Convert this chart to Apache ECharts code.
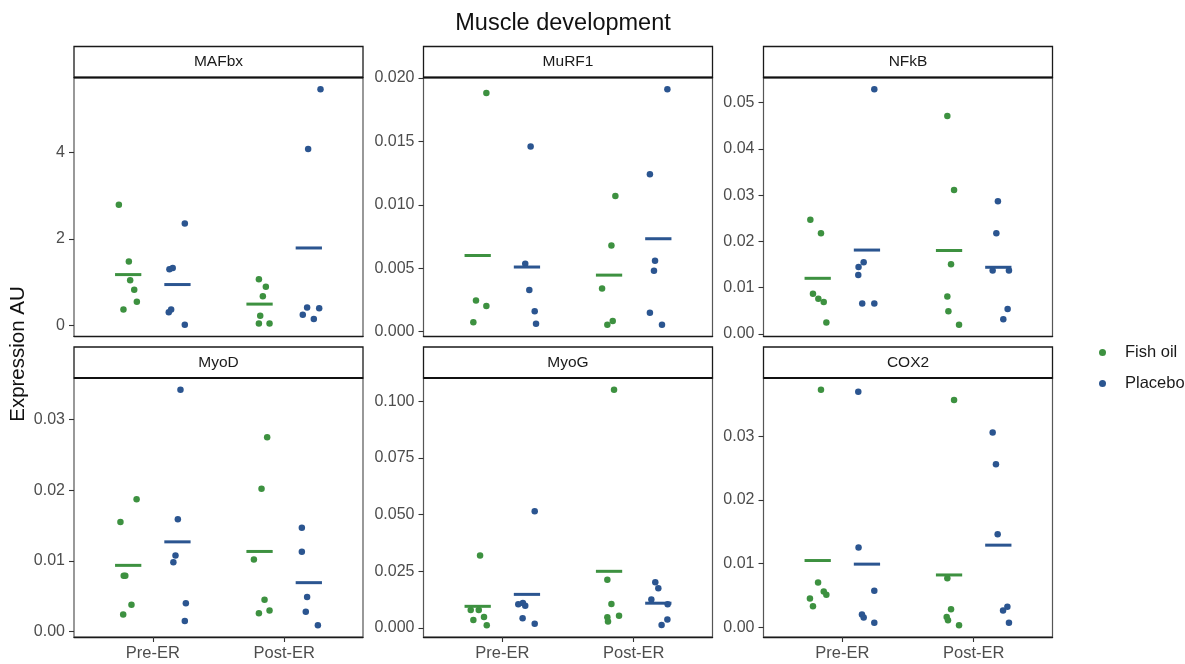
<!DOCTYPE html>
<html>
<head>
<meta charset="utf-8">
<title>Muscle development</title>
<script src="https://cdn.jsdelivr.net/npm/echarts@6/dist/echarts.min.js"></script>
<style>
  html, body { margin: 0; padding: 0; background: #fff; }
  #chart { width: 1185px; height: 664px; }
</style>
</head>
<body>
<div id="chart"></div>
<script>
// Time points on the x axis and the two treatment groups
const categories = ['Pre-ER', 'Post-ER'];
const groups = ['Fish oil', 'Placebo'];
const genes = ['MAFbx', 'MuRF1', 'NFkB', 'MyoD', 'MyoG', 'COX2'];

// Expression values per gene, in the order:
// [Fish oil Pre-ER, Placebo Pre-ER, Fish oil Post-ER, Placebo Post-ER]
const mafbxValues = [
  [2.79, 1.48, 1.05, 0.83, 0.55, 0.37],
  [2.36, 1.30, 1.33, 0.31, 0.37, 0.02],
  [1.07, 0.90, 0.68, 0.23, 0.05, 0.05],
  [5.46, 4.08, 0.42, 0.40, 0.25, 0.15]
];
const murf1Values = [
  [0.0188, 0.00245, 0.00203, 0.00074],
  [0.0146, 0.00535, 0.00329, 0.00161, 0.00063],
  [0.0107, 0.0068, 0.0034, 0.00055, 0.00084],
  [0.0191, 0.0124, 0.0056, 0.0048, 0.0015, 0.00055]
];
const nfkbValues = [
  [0.0247, 0.0218, 0.0087, 0.0076, 0.0069, 0.0025],
  [0.0529, 0.0155, 0.0145, 0.01275, 0.0066, 0.0066],
  [0.0471, 0.0311, 0.0151, 0.0081, 0.0049, 0.0020],
  [0.0287, 0.0218, 0.0137, 0.0137, 0.0054, 0.0032]
];
const myodValues = [
  [0.0187, 0.0155, 0.0079, 0.0079, 0.0038, 0.0024],
  [0.0342, 0.0159, 0.01075, 0.0098, 0.0040, 0.0015],
  [0.0275, 0.0202, 0.0102, 0.0045, 0.0026, 0.0030],
  [0.0147, 0.0113, 0.0049, 0.0028, 0.0009]
];
const myogValues = [
  [0.0319, 0.0079, 0.0079, 0.0048, 0.0035, 0.0012],
  [0.0514, 0.0110, 0.0104, 0.0098, 0.0043, 0.0019],
  [0.105, 0.0213, 0.0106, 0.0054, 0.0047, 0.0028],
  [0.0201, 0.0175, 0.0125, 0.0104, 0.0037, 0.0013]
];
const cox2Values = [
  [0.0373, 0.0070, 0.0056, 0.0051, 0.0045, 0.0033],
  [0.0370, 0.0125, 0.0057, 0.0020, 0.0015, 0.0007],
  [0.0357, 0.0077, 0.0028, 0.0016, 0.0011, 0.0003],
  [0.0306, 0.0256, 0.0146, 0.0032, 0.0026, 0.0007]
];

// Horizontal jitter of each point (x-axis units), same layout as the values
const mafbxJitter = [
  [-0.071, 0.005, 0.015, 0.046, 0.066, -0.036],
  [0.056, -0.061, -0.036, -0.066, -0.048, 0.056],
  [-0.005, 0.048, 0.025, 0.005, -0.005, 0.076],
  [0.089, -0.005, -0.013, 0.079, -0.046, 0.038]
];
const murf1Jitter = [
  [0.066, -0.013, 0.066, -0.033],
  [0.028, -0.013, 0.018, 0.059, 0.069],
  [0.048, 0.018, -0.053, -0.013, 0.028],
  [0.069, -0.064, -0.025, -0.033, -0.064, 0.028]
];
const nfkbJitter = [
  [-0.056, 0.025, -0.036, 0.005, 0.046, 0.066],
  [0.056, -0.025, -0.064, -0.066, -0.036, 0.056],
  [-0.013, 0.038, 0.015, -0.013, -0.005, 0.076],
  [-0.003, -0.015, -0.043, 0.081, 0.071, 0.038]
];
const myodJitter = [
  [0.064, -0.059, -0.034, -0.022, 0.025, -0.038],
  [0.023, 0.003, -0.015, -0.031, 0.064, 0.056],
  [0.058, 0.015, -0.043, 0.038, -0.005, 0.076],
  [-0.053, -0.053, -0.013, -0.023, 0.069]
];
const myogJitter = [
  [0.018, -0.053, 0.008, 0.048, -0.033, 0.069],
  [0.059, -0.031, -0.066, -0.013, -0.033, 0.059],
  [0.038, -0.013, 0.018, 0.076, -0.013, -0.008],
  [-0.023, 0.0, -0.053, 0.071, 0.069, 0.025]
];
const cox2Jitter = [
  [0.025, 0.003, 0.046, 0.066, -0.059, -0.036],
  [-0.066, -0.064, 0.056, -0.038, -0.025, 0.056],
  [0.038, -0.013, 0.015, -0.018, -0.008, 0.076],
  [-0.043, -0.018, -0.005, 0.069, 0.036, 0.081]
];

// Y-axis tick values per panel
const mafbxTicks = [0, 2, 4];
const murf1Ticks = [0, 0.005, 0.010, 0.015, 0.020];
const nfkbTicks = [0, 0.01, 0.02, 0.03, 0.04, 0.05];
const myodTicks = [0, 0.01, 0.02, 0.03];
const myogTicks = [0, 0.025, 0.050, 0.075, 0.100];
const cox2Ticks = [0, 0.01, 0.02, 0.03];
const tickDecimals = [0, 3, 2, 2, 3, 2];

const geneValues = [mafbxValues, murf1Values, nfkbValues, myodValues, myogValues, cox2Values];
const geneJitter = [mafbxJitter, murf1Jitter, nfkbJitter, myodJitter, myogJitter, cox2Jitter];
const geneTicks = [mafbxTicks, murf1Ticks, nfkbTicks, myodTicks, myogTicks, cox2Ticks];

// ---- styling and facet layout ----
const colors = { 'Fish oil': '#3d9140', 'Placebo': '#2b5590' };
const FONT = '"Liberation Sans", Arial, sans-serif';
const dodge = 0.1875;      // half of the dodge width
const meanHalf = 0.1;      // half length of the mean bar
const colLeft = [74, 423.5, 763.5];
const rowTop = [77.5, 378];
const panelW = 289;
const panelH = 259;
const stripH = 31;

const grids = [], xAxes = [], yAxes = [], pointSeries = [], meanSeries = [], graphics = [];

genes.forEach((gene, i) => {
  const col = i % 3, row = Math.floor(i / 3);
  const left = colLeft[col], top = rowTop[row];
  const vals = geneValues[i];
  const all = vals.flat();
  const lo = Math.min(...all), hi = Math.max(...all);
  const pad = 0.05 * (hi - lo);
  const bottomRow = row === 1;

  grids.push({
    left: left, top: top, width: panelW, height: panelH,
    show: true, borderColor: '#555', borderWidth: 1.2, backgroundColor: '#fff'
  });

  xAxes.push({
    gridIndex: i, type: 'value', min: 0.4, max: 2.6,
    axisLine: { show: true, onZero: false, lineStyle: { color: '#1a1a1a', width: 1.4 } },
    axisTick: { show: bottomRow, customValues: [1, 2], length: 5, lineStyle: { color: '#333', width: 1.1 } },
    axisLabel: {
      show: bottomRow, customValues: [1, 2], margin: 8,
      formatter: v => categories[Math.round(v) - 1],
      color: '#4d4d4d', fontSize: 16.5, fontFamily: FONT
    },
    splitLine: { show: false }
  });

  yAxes.push({
    gridIndex: i, type: 'value', min: lo - pad, max: hi + pad,
    axisLine: { show: false },
    axisTick: { show: true, customValues: geneTicks[i], length: 5, lineStyle: { color: '#333', width: 1.1 } },
    axisLabel: {
      customValues: geneTicks[i], margin: 9,
      formatter: v => Number(v).toFixed(tickDecimals[i]),
      color: '#4d4d4d', fontSize: 16, fontFamily: FONT
    },
    splitLine: { show: false }
  });

  groups.forEach((grp, g) => {
    const offset = g === 0 ? -dodge : dodge;
    const pts = [], means = [];
    categories.forEach((cat, t) => {
      const v = vals[t * 2 + g];
      const j = geneJitter[i][t * 2 + g];
      v.forEach((y, k) => pts.push([t + 1 + offset + j[k], y]));
      const m = v.reduce((a, b) => a + b, 0) / v.length;
      means.push([t + 1 + offset, m]);
    });
    pointSeries.push({
      name: grp, type: 'scatter', xAxisIndex: i, yAxisIndex: i,
      symbol: 'circle', symbolSize: 6.5, data: pts,
      itemStyle: { color: colors[grp], opacity: 1 }, z: 3
    });
    meanSeries.push({
      name: grp, type: 'custom', xAxisIndex: i, yAxisIndex: i, data: means, z: 4,
      renderItem: (params, api) => {
        const x = api.value(0), y = api.value(1);
        const p1 = api.coord([x - meanHalf, y]);
        const p2 = api.coord([x + meanHalf, y]);
        return {
          type: 'line',
          shape: { x1: p1[0], y1: p1[1], x2: p2[0], y2: p2[1] },
          style: { stroke: colors[grp], lineWidth: 3 }
        };
      }
    });
  });

  // facet strip with the gene name
  graphics.push({
    type: 'rect', shape: { x: left, y: top - stripH, width: panelW, height: stripH },
    style: { fill: '#fff', stroke: '#1a1a1a', lineWidth: 1.3 }, z: 10
  });
  graphics.push({
    type: 'line', shape: { x1: left, y1: top, x2: left + panelW, y2: top },
    style: { stroke: '#111', lineWidth: 2 }, z: 11
  });
  graphics.push({
    type: 'text', x: left + panelW / 2, y: top - stripH / 2, z: 12,
    style: { text: gene, fill: '#1a1a1a', font: '15.5px ' + FONT, textAlign: 'center', textVerticalAlign: 'middle' }
  });
});

// plot title and shared y-axis title
graphics.push({
  type: 'text', x: 563, y: 24, z: 12,
  style: { text: 'Muscle development', fill: '#111', font: '23.5px ' + FONT, textAlign: 'center', textVerticalAlign: 'middle' }
});
graphics.push({
  type: 'text', x: 18, y: 354, rotation: Math.PI / 2, z: 12,
  style: { text: 'Expression AU', fill: '#111', font: '20.5px ' + FONT, textAlign: 'center', textVerticalAlign: 'middle' }
});

const chart = echarts.init(document.getElementById('chart'), null, { renderer: 'canvas' });
chart.setOption({
  animation: false,
  backgroundColor: '#fff',
  grid: grids,
  xAxis: xAxes,
  yAxis: yAxes,
  legend: {
    data: groups.map(n => ({ name: n, icon: 'circle' })),
    orient: 'vertical', left: 1094, top: 339,
    itemWidth: 7, itemHeight: 7, itemGap: 14,
    selectedMode: false,
    textStyle: { color: '#1a1a1a', fontSize: 16.5, fontFamily: FONT, padding: [0, 0, 0, 14] }
  },
  series: pointSeries.concat(meanSeries),
  graphic: { elements: graphics }
});
</script>
</body>
</html>
